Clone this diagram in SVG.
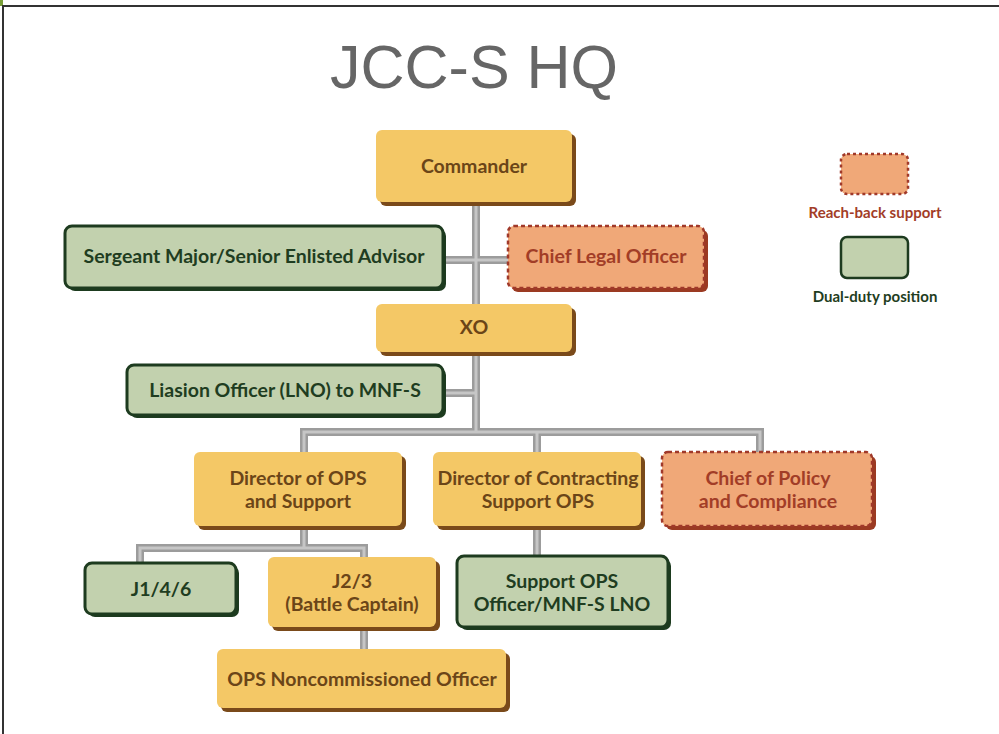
<svg xmlns="http://www.w3.org/2000/svg" width="999" height="734" viewBox="0 0 999 734">
<style>
.t{font-family:Lato,"Open Sans","Liberation Sans",sans-serif;font-weight:bold;text-anchor:middle}
.ty{fill:#6b4518;font-size:19.5px}
.tg{fill:#1f3d21;font-size:19.5px}
.to{fill:#a23d27;font-size:19.5px}
.sy{fill:#7a4a1a}
.fy{fill:#f4c866}
.sg{fill:#1d3b1f}
.fg{fill:#c2d1ae;stroke:#1d3b1f;stroke-width:3}
.so{fill:#9b3a22}
.fo{fill:#f0a878;stroke:#a0392a;stroke-width:2.5;stroke-dasharray:4 3}
.pipeo{fill:none;stroke:#9c9c9c;stroke-width:8;stroke-linecap:square}
.pipei{fill:none;stroke:#c6c6c6;stroke-width:3;stroke-linecap:square}
</style>
<defs>
<path id="conn" d="M476 202V432M443 260H508M443 393H476M304 432H760M304 432V452M537 432V452M760 432V452M304 526V548M140 548H364M140 548V563M364 548V557M364 627V649M537 526V556"/>
</defs>
<rect width="999" height="734" fill="#fff"/>
<rect x="0" y="0" width="3" height="6" fill="#7aa03a"/>
<path d="M3 734V6H999" fill="none" stroke="#333" stroke-width="2"/>
<text x="474" y="88" font-family="'Liberation Sans',Arial,sans-serif" font-size="61" fill="#666" text-anchor="middle">JCC-S HQ</text>
<g id="connectors">
<use href="#conn" class="pipeo"/>
<use href="#conn" class="pipei"/>
</g>
<g id="commander">
<rect class="sy" x="380" y="134" width="196" height="72" rx="6"/>
<rect class="fy" x="376" y="130" width="196" height="72" rx="6"/>
<text class="t ty" x="474" y="173">Commander</text>
</g>
<g id="sgm">
<rect class="sg" x="68" y="229" width="378" height="62" rx="7"/>
<rect class="fg" x="65" y="226" width="378" height="62" rx="7"/>
<text class="t tg" x="254" y="263">Sergeant Major/Senior Enlisted Advisor</text>
</g>
<g id="legal">
<rect class="so" x="512" y="230" width="196" height="62" rx="6"/>
<rect class="fo" x="508" y="226" width="196" height="62" rx="6"/>
<text class="t to" x="606" y="263">Chief Legal Officer</text>
</g>
<g id="xo">
<rect class="sy" x="380" y="308" width="196" height="48" rx="6"/>
<rect class="fy" x="376" y="304" width="196" height="48" rx="6"/>
<text class="t ty" x="474" y="334">XO</text>
</g>
<g id="lno">
<rect class="sg" x="130" y="368" width="316" height="50" rx="7"/>
<rect class="fg" x="127" y="365" width="316" height="50" rx="7"/>
<text class="t tg" x="285" y="397">Liasion Officer (LNO) to MNF-S</text>
</g>
<g id="dirops">
<rect class="sy" x="198" y="456" width="208" height="74" rx="6"/>
<rect class="fy" x="194" y="452" width="208" height="74" rx="6"/>
<text class="t ty" x="298" y="485">Director of OPS</text>
<text class="t ty" x="298" y="508">and Support</text>
</g>
<g id="dircon">
<rect class="sy" x="437" y="456" width="208" height="74" rx="6"/>
<rect class="fy" x="433" y="452" width="208" height="74" rx="6"/>
<text class="t ty" x="538" y="485">Director of Contracting</text>
<text class="t ty" x="538" y="508">Support OPS</text>
</g>
<g id="policy">
<rect class="so" x="666" y="456" width="210" height="74" rx="6"/>
<rect class="fo" x="662" y="452" width="210" height="74" rx="6"/>
<text class="t to" x="768" y="485">Chief of Policy</text>
<text class="t to" x="768" y="508">and Compliance</text>
</g>
<g id="j146">
<rect class="sg" x="88" y="566" width="151" height="51" rx="7"/>
<rect class="fg" x="85" y="563" width="151" height="51" rx="7"/>
<text class="t tg" x="161" y="596">J1/4/6</text>
</g>
<g id="j23">
<rect class="sy" x="272" y="561" width="168" height="70" rx="6"/>
<rect class="fy" x="268" y="557" width="168" height="70" rx="6"/>
<text class="t ty" x="352" y="588">J2/3</text>
<text class="t ty" x="352" y="611">(Battle Captain)</text>
</g>
<g id="supportops">
<rect class="sg" x="460" y="559" width="211" height="71" rx="7"/>
<rect class="fg" x="457" y="556" width="211" height="71" rx="7"/>
<text class="t tg" x="562" y="588">Support OPS</text>
<text class="t tg" x="562" y="611">Officer/MNF-S LNO</text>
</g>
<g id="opsnco">
<rect class="sy" x="221" y="653" width="289" height="59" rx="6"/>
<rect class="fy" x="217" y="649" width="289" height="59" rx="6"/>
<text class="t ty" x="362" y="686">OPS Noncommissioned Officer</text>
</g>
<g id="legend">
<rect x="841" y="154" width="67" height="40" rx="6" fill="#f0a878" stroke="#a0392a" stroke-width="2.5" stroke-dasharray="3 3"/>
<text class="t" x="875" y="218" font-size="15" fill="#a23d27">Reach-back support</text>
<rect x="841" y="237" width="67" height="41" rx="6" fill="#c2d1ae" stroke="#1d3b1f" stroke-width="2.5"/>
<text class="t" x="875" y="302" font-size="15" fill="#1f3d21">Dual-duty position</text>
</g>
</svg>
